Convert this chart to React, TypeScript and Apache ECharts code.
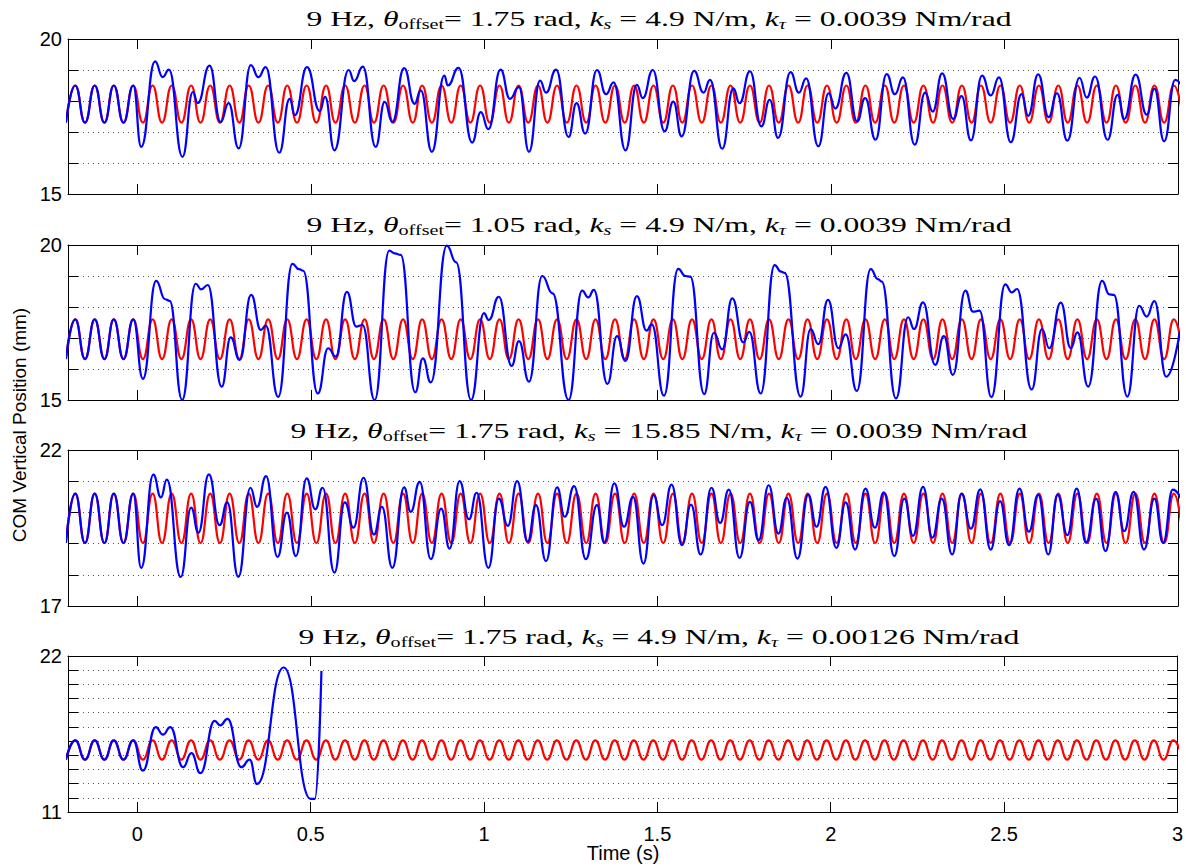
import React, { useEffect, useRef } from "react";
import * as echarts from "echarts";

// ---------- data ----------
const xTicks = [0, 0.5, 1, 1.5, 2, 2.5, 3];

// times of the extrema of the red reference curve (trough, peak, trough, ...)
const redTimes = [
  -0.206, -0.179, -0.151, -0.123, -0.095, -0.068, -0.04, -0.012, 0.016, 0.044,
  0.071, 0.099, 0.127, 0.155, 0.182, 0.21, 0.238, 0.266, 0.294, 0.321,
  0.349, 0.377, 0.405, 0.432, 0.46, 0.488, 0.516, 0.544, 0.571, 0.599,
  0.627, 0.655, 0.682, 0.71, 0.738, 0.766, 0.794, 0.821, 0.849, 0.877,
  0.905, 0.932, 0.96, 0.988, 1.016, 1.044, 1.071, 1.099, 1.127, 1.155,
  1.182, 1.21, 1.238, 1.266, 1.294, 1.321, 1.349, 1.377, 1.405, 1.432,
  1.46, 1.488, 1.516, 1.544, 1.571, 1.599, 1.627, 1.655, 1.682, 1.71,
  1.738, 1.766, 1.794, 1.821, 1.849, 1.877, 1.905, 1.932, 1.96, 1.988,
  2.016, 2.044, 2.071, 2.099, 2.127, 2.155, 2.182, 2.21, 2.238, 2.266,
  2.294, 2.321, 2.349, 2.377, 2.405, 2.432, 2.46, 2.488, 2.516, 2.544,
  2.571, 2.599, 2.627, 2.655, 2.682, 2.71, 2.738, 2.766, 2.794, 2.821,
  2.849, 2.877, 2.905, 2.932, 2.96, 2.988, 3.016,
];
// [trough, peak] of the red curve in each panel (mm)
const redLevels1 = [17.3, 18.5];
const redLevels2 = [16.32, 17.6];
const redLevels3 = [19.02, 20.6];
const redLevels4 = [14.69, 16.05];

const blue1 = [
  [-0.206, 17.3], [-0.179, 18.5], [-0.151, 17.3], [-0.123, 18.5], [-0.095, 17.3], [-0.068, 18.5], [-0.04, 17.3], [-0.012, 18.5],
  [0.011, 16.52], [0.051, 19.28], [0.073, 18.77], [0.091, 19.01], [0.13, 16.2], [0.16, 18.29], [0.174, 17.93], [0.208, 19.14],
  [0.24, 17.32], [0.263, 17.93], [0.292, 16.47], [0.327, 19.16], [0.349, 18.77], [0.37, 19.09], [0.409, 16.33], [0.439, 18.07],
  [0.454, 17.54], [0.489, 19.09], [0.526, 17.67], [0.541, 18.13], [0.568, 16.41], [0.609, 19.0], [0.625, 18.64], [0.65, 19.11],
  [0.687, 16.52], [0.713, 17.97], [0.735, 17.32], [0.769, 19.06], [0.799, 17.91], [0.817, 18.34], [0.849, 16.36], [0.885, 18.82],
  [0.895, 18.5], [0.926, 19.07], [0.965, 16.66], [0.99, 17.64], [1.012, 17.09], [1.047, 19.01], [1.074, 18.07], [1.1, 18.45],
  [1.129, 16.36], [1.161, 18.66], [1.178, 18.27], [1.207, 19.01], [1.243, 16.84], [1.266, 17.93], [1.291, 16.95], [1.325, 19.0],
  [1.351, 18.22], [1.373, 18.6], [1.407, 16.41], [1.44, 18.52], [1.457, 18.09], [1.486, 19.0], [1.52, 17.02], [1.545, 17.98],
  [1.569, 16.86], [1.605, 18.97], [1.632, 18.27], [1.651, 18.68], [1.686, 16.46], [1.718, 18.41], [1.736, 17.93], [1.766, 18.96],
  [1.799, 17.18], [1.823, 18.04], [1.847, 16.81], [1.883, 18.93], [1.907, 18.27], [1.928, 18.73], [1.963, 16.54], [1.993, 18.25],
  [2.012, 17.76], [2.044, 18.91], [2.075, 17.34], [2.098, 18.09], [2.128, 16.75], [2.16, 18.87], [2.184, 18.22], [2.207, 18.76],
  [2.241, 16.59], [2.271, 18.27], [2.293, 17.66], [2.32, 18.89], [2.352, 17.42], [2.376, 18.16], [2.403, 16.73], [2.435, 18.82],
  [2.46, 18.18], [2.484, 18.76], [2.518, 16.67], [2.549, 18.22], [2.568, 17.52], [2.597, 18.86], [2.627, 17.48], [2.651, 18.25],
  [2.681, 16.72], [2.716, 18.75], [2.737, 18.11], [2.761, 18.79], [2.797, 16.75], [2.826, 18.2], [2.845, 17.42], [2.878, 18.85],
  [2.91, 17.56], [2.932, 18.4], [2.96, 16.7], [2.992, 18.68], [3.01, 18.5],
];

const blue2 = [
  [-0.206, 16.32], [-0.179, 17.6], [-0.151, 16.32], [-0.123, 17.6], [-0.095, 16.32], [-0.068, 17.6], [-0.04, 16.32], [-0.012, 17.6],
  [0.016, 15.68], [0.054, 18.84], [0.08, 18.25], [0.093, 18.2], [0.129, 15.0], [0.168, 18.75], [0.184, 18.57], [0.203, 18.71],
  [0.243, 15.43], [0.269, 17.02], [0.295, 16.29], [0.328, 18.39], [0.356, 17.26], [0.37, 17.4], [0.406, 15.1], [0.447, 19.39],
  [0.466, 19.22], [0.478, 19.17], [0.52, 15.21], [0.55, 16.67], [0.572, 16.4], [0.604, 18.49], [0.631, 17.37], [0.649, 17.42],
  [0.684, 15.0], [0.726, 19.82], [0.742, 19.73], [0.759, 19.68], [0.801, 15.25], [0.823, 16.34], [0.846, 15.57], [0.892, 19.98],
  [0.919, 19.44], [0.962, 15.0], [0.999, 17.8], [1.013, 17.58], [1.042, 18.33], [1.079, 16.1], [1.1, 16.9], [1.129, 15.59],
  [1.167, 19.0], [1.197, 18.44], [1.243, 15.0], [1.282, 18.53], [1.3, 18.31], [1.316, 18.55], [1.355, 15.52], [1.383, 17.06],
  [1.407, 16.26], [1.44, 18.35], [1.468, 17.24], [1.483, 17.44], [1.518, 15.14], [1.559, 19.23], [1.58, 19.0], [1.594, 18.98],
  [1.634, 15.19], [1.662, 17.17], [1.686, 16.63], [1.715, 18.28], [1.747, 16.86], [1.764, 17.2], [1.797, 15.21], [1.837, 19.35],
  [1.856, 19.14], [1.866, 19.1], [1.912, 15.11], [1.941, 17.29], [1.963, 16.8], [1.991, 18.23], [2.021, 16.67], [2.042, 17.12],
  [2.074, 15.29], [2.114, 19.22], [2.135, 18.9], [2.146, 18.82], [2.187, 15.05], [2.222, 17.67], [2.239, 17.29], [2.265, 18.15],
  [2.3, 16.13], [2.325, 17.06], [2.351, 15.81], [2.387, 18.53], [2.409, 17.85], [2.428, 17.88], [2.462, 15.09], [2.502, 18.73],
  [2.521, 18.47], [2.536, 18.58], [2.578, 15.34], [2.608, 17.29], [2.629, 16.67], [2.662, 18.14], [2.691, 16.67], [2.71, 17.18],
  [2.741, 15.43], [2.781, 18.84], [2.802, 18.41], [2.815, 18.39], [2.854, 15.11], [2.888, 18.04], [2.91, 17.69], [2.932, 18.19],
  [2.966, 15.75], [3.005, 17.2],
];

const blue3 = [
  [-0.206, 19.02], [-0.179, 20.6], [-0.151, 19.02], [-0.123, 20.6], [-0.095, 19.02], [-0.068, 20.6], [-0.04, 19.02], [-0.012, 20.6],
  [0.011, 18.22], [0.046, 21.21], [0.068, 20.48], [0.085, 21.05], [0.125, 17.93], [0.155, 20.15], [0.176, 19.35], [0.206, 21.22],
  [0.237, 19.59], [0.259, 20.32], [0.291, 17.93], [0.326, 20.79], [0.345, 20.18], [0.371, 21.16], [0.404, 18.57], [0.431, 19.99],
  [0.457, 18.6], [0.488, 21.09], [0.513, 20.1], [0.534, 20.79], [0.568, 18.07], [0.598, 20.32], [0.623, 19.51], [0.652, 21.11],
  [0.682, 19.29], [0.705, 20.18], [0.735, 18.22], [0.769, 20.8], [0.788, 20.02], [0.814, 20.98], [0.846, 18.5], [0.876, 20.12],
  [0.9, 18.84], [0.929, 21.0], [0.956, 19.78], [0.978, 20.63], [1.012, 18.22], [1.042, 20.44], [1.068, 19.57], [1.095, 21.0],
  [1.125, 19.06], [1.149, 20.23], [1.178, 18.44], [1.21, 20.8], [1.232, 19.86], [1.259, 20.84], [1.293, 18.5], [1.325, 20.23],
  [1.346, 19.02], [1.375, 20.93], [1.403, 19.54], [1.429, 20.5], [1.459, 18.36], [1.488, 20.55], [1.513, 19.59], [1.54, 20.89],
  [1.57, 18.95], [1.596, 20.25], [1.624, 18.65], [1.655, 20.79], [1.68, 19.66], [1.705, 20.73], [1.736, 18.54], [1.766, 20.34],
  [1.791, 19.11], [1.82, 20.87], [1.848, 19.32], [1.872, 20.47], [1.903, 18.52], [1.934, 20.57], [1.958, 19.54], [1.984, 20.82],
  [2.015, 18.86], [2.042, 20.32], [2.069, 18.81], [2.099, 20.76], [2.126, 19.51], [2.152, 20.64], [2.182, 18.6], [2.211, 20.44],
  [2.236, 19.25], [2.265, 20.82], [2.292, 19.19], [2.319, 20.44], [2.349, 18.65], [2.376, 20.6], [2.403, 19.48], [2.43, 20.74],
  [2.46, 18.81], [2.487, 20.36], [2.513, 18.95], [2.543, 20.76], [2.57, 19.38], [2.597, 20.57], [2.626, 18.65], [2.653, 20.57],
  [2.681, 19.27], [2.708, 20.76], [2.735, 19.03], [2.764, 20.44], [2.791, 18.76], [2.82, 20.66], [2.845, 19.4], [2.872, 20.66],
  [2.902, 18.81], [2.932, 20.44], [2.957, 19.02], [2.985, 20.73], [3.01, 20.4],
];

const blue4 = [
  [-0.206, 14.69], [-0.179, 16.05], [-0.151, 14.69], [-0.123, 16.05], [-0.095, 14.69], [-0.068, 16.05], [-0.04, 14.69], [-0.012, 16.05],
  [0.016, 13.92], [0.053, 16.99], [0.074, 16.45], [0.095, 16.99], [0.132, 14.16], [0.156, 15.15], [0.182, 13.74], [0.223, 17.42],
  [0.239, 17.11], [0.26, 17.56], [0.3, 14.16], [0.324, 14.7], [0.345, 12.98], [0.422, 21.19], [0.5, 11.92], [0.512, 11.92],
  [0.531, 20.95],
];

const yMins = [15, 15, 17, 11];
const yMaxs = [20, 20, 22, 22];
const titleTheta = ["1.75", "1.05", "1.75", "1.75"];
const titleKs = ["4.9", "4.9", "15.85", "4.9"];
const titleKt = ["0.0039", "0.0039", "0.0039", "0.00126"];
const yAxisName = "COM Vertical Position (mm)";
const xAxisName = "Time (s)";

// ---------- layout ----------
const W = 1186;
const H = 867;
const GRID_LEFT = 68;
const GRID_WIDTH = 1110;
const gridTops = [39, 245, 450, 656];
const gridHeights = [155, 155, 156, 156];
const titleYs = [19, 225, 431, 637];
const SANS = "'Liberation Sans', Arial, Helvetica, sans-serif";
const SERIF = "'Liberation Serif', 'Times New Roman', serif";

const redData = (levels: number[]) =>
  redTimes.map((t, k) => [t, k % 2 === 0 ? levels[0] : levels[1]]);

function buildOption() {
  const grids: any[] = [];
  const xAxes: any[] = [];
  const yAxes: any[] = [];
  const series: any[] = [];
  const graphics: any[] = [];
  const reds = [redLevels1, redLevels2, redLevels3, redLevels4];
  const blues = [blue1, blue2, blue3, blue4];

  for (let i = 0; i < 4; i++) {
    grids.push({ left: GRID_LEFT, width: GRID_WIDTH, top: gridTops[i], height: gridHeights[i] });
    const axisLine = { show: true, onZero: false, lineStyle: { color: "#000", width: 1 } };
    const tickStyle = { color: "#000", width: 1 };
    xAxes.push({
      type: "value", gridIndex: i, position: "bottom", min: -0.2, max: 3,
      axisLine, splitLine: { show: false },
      axisTick: { show: true, inside: true, length: 10, customValues: xTicks, lineStyle: tickStyle },
      axisLabel: {
        show: i === 3, customValues: xTicks, margin: 12, color: "#000",
        fontFamily: SANS, fontSize: 20,
      },
    });
    xAxes.push({
      type: "value", gridIndex: i, position: "top", min: -0.2, max: 3,
      axisLine, splitLine: { show: false },
      axisTick: { show: true, inside: true, length: 10, customValues: xTicks, lineStyle: tickStyle },
      axisLabel: { show: false },
    });
    const mn = yMins[i];
    const mx = yMaxs[i];
    yAxes.push({
      type: "value", gridIndex: i, position: "left", min: mn, max: mx, interval: 1,
      axisLine,
      axisTick: { show: true, inside: true, length: 10, lineStyle: tickStyle },
      axisLabel: {
        show: true, margin: 6, color: "#000", fontFamily: SANS, fontSize: 20,
        formatter: (v: number) => (v === mn || v === mx ? String(v) : ""),
      },
      splitLine: { show: true, lineStyle: { color: "#555", width: 1, type: [1, 4] } },
    });
    yAxes.push({
      type: "value", gridIndex: i, position: "right", min: mn, max: mx, interval: 1,
      axisLine,
      axisTick: { show: true, inside: true, length: 10, lineStyle: tickStyle },
      axisLabel: { show: false },
      splitLine: { show: false },
    });
    series.push({
      type: "line", xAxisIndex: 2 * i, yAxisIndex: 2 * i, data: redData(reds[i]),
      symbol: "none", showSymbol: false, smooth: 0.5, smoothMonotone: "x", clip: true,
      lineStyle: { color: "#ff0000", width: 2.2 }, silent: true, z: 2,
    });
    series.push({
      type: "line", xAxisIndex: 2 * i, yAxisIndex: 2 * i, data: blues[i],
      symbol: "none", showSymbol: false, smooth: 0.5, smoothMonotone: "x", clip: true,
      lineStyle: { color: "#0000ff", width: 2.2 }, silent: true, z: 3,
    });

    graphics.push({
      type: "text", x: 659, y: titleYs[i], scaleX: 1.44, silent: true,
      style: {
        text:
          "{n|9 Hz, }{i|θ}{s|offset}{n|= " + titleTheta[i] + " rad, }{i|k}{si|s}{n| = " +
          titleKs[i] + " N/m, }{i|k}{si|τ}{n| = " + titleKt[i] + " Nm/rad}",
        align: "center", verticalAlign: "middle", fill: "#000",
        rich: {
          n: { fontFamily: SERIF, fontSize: 22, lineHeight: 26, fill: "#000" },
          i: { fontFamily: SERIF, fontSize: 22, fontStyle: "italic", lineHeight: 26, fill: "#000" },
          s: { fontFamily: SERIF, fontSize: 14, lineHeight: 14, verticalAlign: "bottom", fill: "#000" },
          si: { fontFamily: SERIF, fontSize: 14, fontStyle: "italic", lineHeight: 14, verticalAlign: "bottom", fill: "#000" },
        },
      },
    });
  }

  graphics.push({
    type: "text", x: 19, y: 425, rotation: Math.PI / 2, silent: true,
    style: { text: yAxisName, align: "center", verticalAlign: "middle", fill: "#000", fontFamily: SANS, fontSize: 19 },
  });
  graphics.push({
    type: "text", x: 623, y: 853, silent: true,
    style: { text: xAxisName, align: "center", verticalAlign: "middle", fill: "#000", fontFamily: SANS, fontSize: 20 },
  });

  return {
    animation: false,
    backgroundColor: "#fff",
    grid: grids,
    xAxis: xAxes,
    yAxis: yAxes,
    series,
    graphic: graphics,
  };
}

export default function App() {
  const ref = useRef<HTMLDivElement>(null);
  useEffect(() => {
    if (!ref.current) return;
    const chart = echarts.init(ref.current, null, { renderer: "svg" });
    chart.setOption(buildOption() as any);
    return () => chart.dispose();
  }, []);
  return (
    <div
      ref={ref}
      style={{ position: "fixed", left: 0, top: 0, width: W, height: H, background: "#fff" }}
    />
  );
}
